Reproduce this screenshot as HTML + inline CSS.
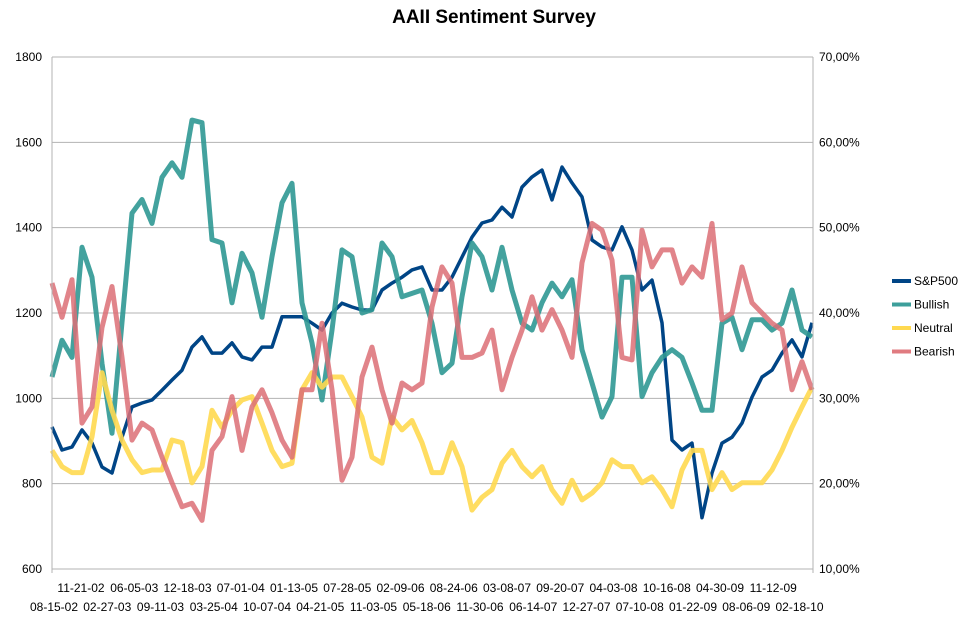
<!DOCTYPE html>
<html><head><meta charset="utf-8"><style>
body{margin:0;background:#fff;}
svg text{font-family:"Liberation Sans",sans-serif;fill:#000;}
</style></head><body>
<svg id="chart" width="978" height="624" xmlns="http://www.w3.org/2000/svg">
<text x="494" y="23" text-anchor="middle" font-size="19" font-weight="bold">AAII Sentiment Survey</text>
<g id="grid"></g><g id="series"></g><g id="axes"></g><g id="legend"></g>
</svg>
<script>
const leftTicks=[600,800,1000,1200,1400,1600,1800];
const rightTicks=["10,00%","20,00%","30,00%","40,00%","50,00%","60,00%","70,00%"];
const rightTickVals=[10,20,30,40,50,60,70];
const xLabelsTop=["11-21-02","06-05-03","12-18-03","07-01-04","01-13-05","07-28-05","02-09-06","08-24-06","03-08-07","09-20-07","04-03-08","10-16-08","04-30-09","11-12-09"];
const xLabelsBottom=["08-15-02","02-27-03","09-11-03","03-25-04","10-07-04","04-21-05","11-03-05","05-18-06","11-30-06","06-14-07","12-27-07","07-10-08","01-22-09","08-06-09","02-18-10"];
const sp500=[933,879,886,926,895,839,825,909,980,989,996,1019,1043,1066,1120,1144,1106,1106,1130,1097,
1090,1120,1120,1191,1191,1191,1176,1160,1200,1223,1214,1207,1207,1254,1270,1284,1301,1308,1254,
1254,1284,1331,1378,1411,1418,1448,1425,1495,1519,1535,1465,1542,1505,1472,1371,1355,1348,1402,
1348,1254,1277,1177,902,879,895,720,825,895,909,942,1003,1050,1066,1106,1137,1097,1177];
const bullish=[32.5,36.8,34.8,47.7,44.2,34.1,25.9,38.9,51.7,53.3,50.5,55.9,57.6,55.9,62.6,62.3,48.6,48.2,41.2,47.0,
44.7,39.5,46.6,52.9,55.2,41.2,36.5,29.8,38.0,47.4,46.6,40.0,40.4,48.2,46.6,41.9,42.3,42.7,38.8,
33.0,34.1,41.9,48.2,46.6,42.7,47.7,42.7,38.8,38.0,41.2,43.5,41.9,43.9,35.7,31.8,27.8,30.2,44.2,
44.2,30.2,33.0,34.8,35.7,34.8,31.8,28.6,28.6,38.8,39.5,35.7,39.2,39.2,38.0,38.8,42.7,38.0,37.2];
const neutral=[23.9,22.0,21.3,21.3,25.5,33.0,28.6,25.1,22.8,21.3,21.6,21.6,25.1,24.8,20.1,22.0,28.6,26.6,28.6,29.8,
30.2,27.1,23.9,22.0,22.4,31.0,33.0,31.3,32.5,32.5,30.2,27.8,23.1,22.4,27.8,26.3,27.4,24.8,21.3,
21.3,24.8,22.0,16.9,18.4,19.3,22.4,23.9,22.0,20.8,22.0,19.3,17.7,20.4,18.1,18.9,20.1,22.8,22.0,
22.0,20.1,20.8,19.3,17.3,21.6,23.9,23.9,19.3,21.3,19.3,20.1,20.1,20.1,21.6,23.9,26.6,29.0,31.3];
const bearish=[43.5,39.5,43.9,27.1,29.0,38.3,43.1,34.8,25.1,27.1,26.3,23.1,20.1,17.3,17.7,15.7,23.9,25.5,30.2,23.9,
29.0,31.0,28.3,25.1,23.1,31.0,31.0,38.8,31.0,20.4,23.1,32.5,36.0,31.0,27.1,31.8,31.0,31.8,40.7,
45.4,43.5,34.8,34.8,35.3,38.0,31.0,34.8,38.0,41.9,38.0,40.4,38.0,34.8,45.9,50.5,49.7,46.2,34.8,
34.5,49.7,45.4,47.4,47.4,43.5,45.4,44.2,50.5,39.2,40.0,45.4,41.2,40.0,38.8,38.0,31.0,34.3,31.0];

const NS="http://www.w3.org/2000/svg";
const X0=52,X1=812,Y0=569,Y1=57;
function xScale(i,n){return X0+(X1-X0)*i/(n-1);}
function yLeft(v){return Y0-(v-600)/1200*(Y0-Y1);}
function yRight(p){return Y0-(p-10)/60*(Y0-Y1);}
function mk(tag,attrs,parent){const e=document.createElementNS(NS,tag);for(const k in attrs)e.setAttribute(k,attrs[k]);parent.appendChild(e);return e;}
const grid=document.getElementById('grid'),axes=document.getElementById('axes'),ser=document.getElementById('series'),leg=document.getElementById('legend');
leftTicks.forEach((t,i)=>{
  const y=yLeft(t);
  const l=mk('line',{x1:X0,x2:X1+1,y1:y,y2:y,stroke:'#b3b3b3','stroke-width':1},grid);
  
  
  const tx=mk('text',{x:42,y:y+4,'text-anchor':'end','font-size':12},axes);
  tx.textContent=t;
  
  
});
rightTickVals.forEach((p,i)=>{
  const tx=mk('text',{x:819,y:yRight(p)+4,'font-size':12},axes);
  tx.textContent=rightTicks[i];
  
  
});
const la=mk('line',{x1:X0,x2:X0,y1:Y1,y2:Y0+4,stroke:'#b3b3b3'},axes);


const ra=mk('line',{x1:X1+1,x2:X1+1,y1:Y1,y2:Y0+4,stroke:'#b3b3b3'},axes);


xLabelsTop.forEach((s,i)=>{
  const tx=mk('text',{x:81+i*53.25,y:592,'text-anchor':'middle','font-size':12},axes);
  tx.textContent=s;
  
  
});
xLabelsBottom.forEach((s,i)=>{
  const tx=mk('text',{x:54+i*53.25,y:611,'text-anchor':'middle','font-size':12},axes);
  tx.textContent=s;
  
  
});
function pathFor(arr,ys){return arr.map((v,i)=>(i?'L':'M')+xScale(i,arr.length).toFixed(1)+','+ys(v).toFixed(1)).join(' ');}
const sp=mk('path',{d:pathFor(sp500,yLeft),fill:'none',stroke:'#004586','stroke-width':3.5,'stroke-linejoin':'round'},ser);


const bu=mk('path',{d:pathFor(bullish,yRight),fill:'none',stroke:'#2f9893','stroke-width':5,'stroke-opacity':0.9,'stroke-linejoin':'round'},ser);


const ne=mk('path',{d:pathFor(neutral,yRight),fill:'none',stroke:'#ffd950','stroke-width':5,'stroke-opacity':0.9,'stroke-linejoin':'round'},ser);


const be=mk('path',{d:pathFor(bearish,yRight),fill:'none',stroke:'#dc6e75','stroke-width':5,'stroke-opacity':0.85,'stroke-linejoin':'round'},ser);


const legNames=["S&P500","Bullish","Neutral","Bearish"];
const legColors=["#004586","#3d9f9b","#ffd950","#e07b80"];
legNames.forEach((n,i)=>{
  const y=281+i*23.5;
  const g=mk('g',{},leg);
  
  
  mk('line',{x1:892,x2:911,y1:y,y2:y,stroke:legColors[i],'stroke-width':4},g);
  const t=mk('text',{x:914,y:y+4,'font-size':12},g);
  t.textContent=n;
});
</script>
</body></html>
